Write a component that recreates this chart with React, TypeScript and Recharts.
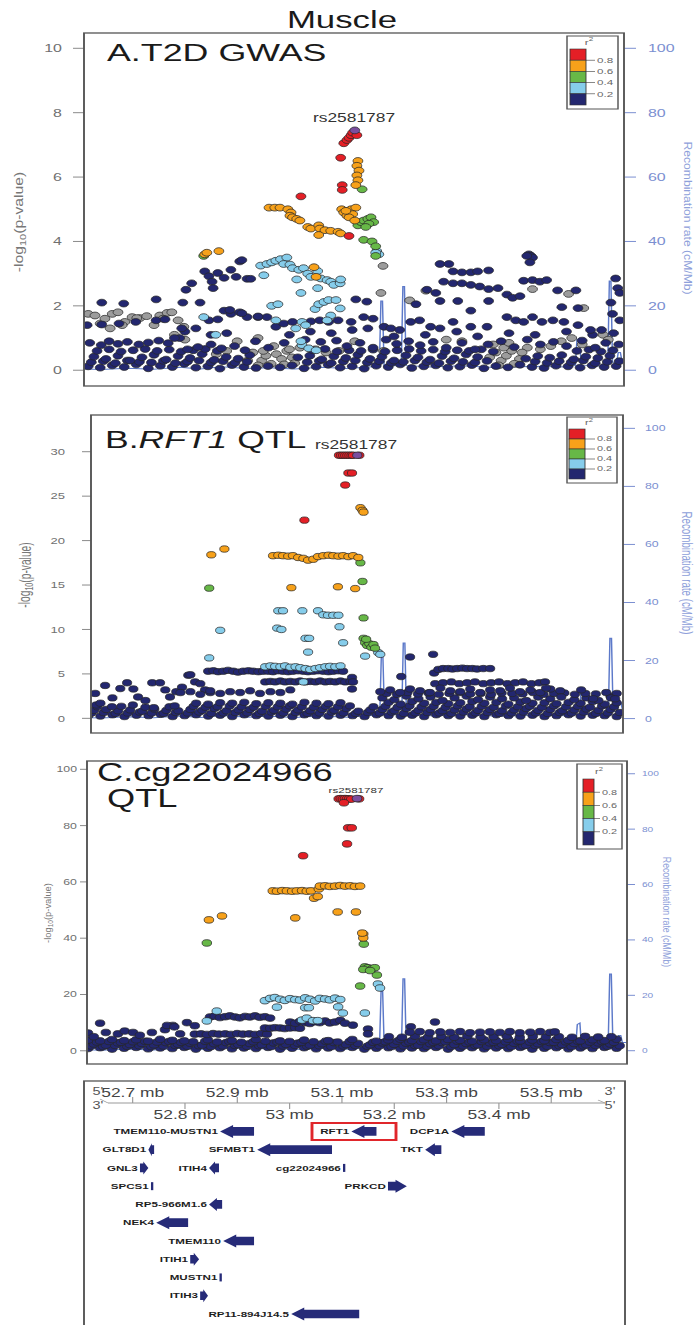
import React from 'react';
import { ComposedChart, Scatter, Line, XAxis, YAxis, BarChart, Bar } from 'recharts';

// the source figure is stretched sideways, so everything is drawn narrow and scaled
const S = 1.45;
const W = 696 / S;
const sx = (v: number) => v / S;

type Pt = [number, number];

const LD_COLORS = ['#E41F26', '#F7A11A', '#67B847', '#86CDEB', '#23276F'];
const LD_BREAKS = ['0.8', '0.6', '0.4', '0.2'];
const GRAY = '#9C9C9C';
const LEAD_COLOR = '#7A4E9E';
const RECOMB_COLOR = '#5C79C9';
const AXIS_BLUE = '#7B8FD1';
const GENE_FILL = '#262B78';

const P_TICKS_A = [0, 2, 4, 6, 8, 10];
const P_TICKS_B = [0, 5, 10, 15, 20, 25, 30];
const P_TICKS_C = [0, 20, 40, 60, 80, 100];
const R_TICKS = [0, 20, 40, 60, 80, 100];
const MB_TICKS = [52.7, 52.8, 52.9, 53, 53.1, 53.2, 53.3, 53.4, 53.5];

// recombination rate (cM/Mb), same map under every panel
const RECOMB: Pt[] = [
  [52.607, 0.4], [52.64, 0.2], [52.69, 0.6], [52.74, 0.3], [52.79, 0.9], [52.83, 0.4], [52.87, 1.1],
  [52.92, 0.5], [52.96, 0.8], [53.01, 0.4], [53.06, 0.9], [53.11, 0.5], [53.15, 1.0], [53.172, 1.2],
  [53.175, 21.5], [53.178, 21.5], [53.181, 1.2], [53.214, 1.5], [53.217, 26], [53.22, 26], [53.223, 1.5],
  [53.27, 1.0], [53.33, 1.4], [53.4, 0.8], [53.47, 1.2], [53.53, 1.0], [53.547, 1.5], [53.55, 9.5],
  [53.555, 10], [53.558, 1.5], [53.6, 1.2], [53.609, 2], [53.612, 27.7], [53.615, 27.7], [53.618, 2.5],
  [53.626, 2.5], [53.629, 5.5], [53.633, 5.5], [53.636, 3], [53.645, 3],
];

// ---------- A. T2D GWAS ----------
const A_LEAD: Pt[] = [[53.125, 7.45]];
const A_RED: Pt[] = [
  [53.104, 7.05], [53.11, 7.15], [53.114, 7.22], [53.118, 7.3], [53.121, 7.38], [53.129, 7.3],
  [53.098, 6.6], [53.101, 5.75], [53.101, 5.6], [53.022, 5.4], [53.114, 4.17],
];
const A_ORANGE: Pt[] = [
  [53.131, 6.5], [53.129, 6.35], [53.133, 6.2], [53.129, 6.05], [53.131, 5.9], [53.127, 5.75],
  [52.961, 5.05], [52.972, 5.05], [52.982, 5.05], [52.997, 5.0], [53.003, 4.9], [53.001, 4.8],
  [53.006, 4.75], [53.014, 4.7], [53.02, 4.65], [53.035, 4.45], [53.041, 4.4], [53.056, 4.5],
  [53.058, 4.4], [53.068, 4.35], [53.079, 4.33], [53.093, 4.3], [53.098, 4.25], [53.056, 4.2],
  [53.1, 5.0], [53.104, 4.9], [53.11, 4.8], [53.118, 5.0], [53.127, 5.05], [53.121, 4.85],
  [53.114, 4.75], [53.125, 4.65], [53.108, 4.95],
  [52.838, 3.6], [52.842, 3.65], [52.865, 3.7], [53.047, 3.2], [53.051, 2.9],
];
const A_GREEN: Pt[] = [
  [53.131, 4.5], [53.137, 4.6], [53.142, 4.65], [53.15, 4.7], [53.156, 4.75], [53.161, 4.6],
  [53.152, 4.55], [53.146, 4.45], [53.142, 4.05], [53.158, 4.0], [53.165, 3.85], [53.165, 3.55],
  [52.836, 3.55], [53.139, 5.62],
];
const A_LBLUE: Pt[] = [
  [52.945, 3.25], [52.957, 3.3], [52.966, 3.35], [52.974, 3.4], [52.983, 3.45], [52.995, 3.5],
  [52.989, 3.3], [53.001, 3.28], [53.006, 3.17], [53.018, 3.12], [53.027, 3.17], [53.035, 3.0],
  [53.041, 2.9], [53.054, 3.08], [53.06, 2.85], [53.072, 2.8], [53.079, 2.75], [53.085, 2.65],
  [53.097, 2.7], [53.098, 2.82], [53.014, 2.82], [52.951, 2.95], [53.054, 2.55], [53.022, 2.4],
  [52.966, 2.0], [52.978, 2.05], [53.049, 1.9], [53.056, 2.05], [53.066, 2.12], [53.075, 2.18],
  [53.089, 2.18], [53.097, 1.92], [53.079, 1.7], [52.974, 1.55], [53.024, 1.5], [53.031, 1.4],
  [52.859, 1.1], [52.836, 1.65], [53.024, 0.78], [53.037, 0.68], [53.051, 0.62], [53.167, 3.7],
  [53.171, 3.6], [53.165, 3.65], [53.022, 0.9], [53.012, 1.3], [53.072, 1.55],
];
const A_GRAY: Pt[] = [
  [52.615, 1.75], [52.628, 1.7], [52.638, 1.45], [52.647, 1.6], [52.661, 1.75], [52.672, 1.8],
  [52.685, 1.5], [52.699, 1.65], [52.714, 1.62], [52.727, 1.68], [52.741, 1.4], [52.752, 1.7],
  [52.766, 1.78], [52.775, 1.8], [52.787, 1.55], [52.798, 1.35], [52.657, 1.3], [52.68, 1.4],
  [52.708, 1.62], [52.758, 1.6], [53.179, 3.24], [53.175, 2.4], [53.23, 2.17], [53.261, 2.47],
  [53.534, 2.37], [53.465, 2.52], [53.563, 1.93],
  [52.947, 0.3], [52.955, 0.45], [52.965, 0.2], [52.975, 0.5], [52.985, 0.35], [52.995, 0.6],
  [53.005, 0.4], [52.93, 0.55], [52.92, 0.3], [53.02, 0.7], [53.05, 0.65], [53.07, 0.55],
  [53.095, 0.6], [53.125, 0.9], [53.383, 0.4], [53.395, 0.55], [53.405, 0.3], [53.415, 0.45],
  [53.425, 0.6], [53.44, 0.35], [53.455, 0.7], [53.48, 0.65], [53.5, 0.75], [53.52, 0.9],
  [53.54, 1.0], [53.56, 0.8], [53.6, 1.1], [53.61, 0.95], [52.86, 0.5], [52.88, 0.6], [52.9, 0.9],
  [52.94, 1.0], [52.78, 1.1], [52.8, 0.95], [53.18, 0.6], [53.3, 0.95], [53.33, 0.9],
  [52.94, 0.15], [52.95, 0.6], [52.97, 0.75], [52.99, 0.18], [53.0, 0.65], [53.01, 0.22],
  [53.4, 0.15], [53.41, 0.7], [53.43, 0.2], [53.445, 0.55], [53.42, 0.85], [53.39, 0.8],
];
const A_NAVY: Pt[] = [
  [52.615, 0.12], [52.638, 0.08], [52.661, 0.15], [52.684, 0.1], [52.707, 0.18], [52.73, 0.06],
  [52.753, 0.14], [52.776, 0.1], [52.799, 0.2], [52.821, 0.08], [52.844, 0.12], [52.867, 0.05],
  [52.89, 0.16], [52.913, 0.1], [52.936, 0.07], [52.959, 0.13], [52.982, 0.09], [53.005, 0.15],
  [53.028, 0.06], [53.051, 0.11], [53.074, 0.17], [53.097, 0.08], [53.12, 0.12], [53.143, 0.05],
  [53.166, 0.14], [53.189, 0.1], [53.212, 0.18], [53.234, 0.07], [53.257, 0.12], [53.28, 0.15],
  [53.303, 0.08], [53.326, 0.11], [53.349, 0.16], [53.372, 0.06], [53.395, 0.13], [53.418, 0.09],
  [53.441, 0.17], [53.464, 0.1], [53.487, 0.07], [53.51, 0.14], [53.533, 0.12], [53.556, 0.08],
  [53.579, 0.15], [53.602, 0.1], [53.625, 0.13],
  [52.621, 0.25], [52.644, 0.28], [52.667, 0.22], [52.69, 0.3], [52.713, 0.26], [52.736, 0.24],
  [52.759, 0.29], [52.782, 0.22], [52.805, 0.27], [52.827, 0.3], [52.85, 0.24], [52.873, 0.28],
  [52.896, 0.23], [52.919, 0.26], [53.034, 0.25], [53.057, 0.29], [53.08, 0.22], [53.103, 0.27],
  [53.126, 0.3], [53.149, 0.24], [53.172, 0.28], [53.195, 0.23], [53.218, 0.26], [53.24, 0.3],
  [53.263, 0.25], [53.286, 0.22], [53.309, 0.28], [53.332, 0.26], [53.355, 0.24], [53.378, 0.29],
  [53.47, 0.27], [53.493, 0.23], [53.516, 0.28], [53.539, 0.25], [53.562, 0.3], [53.585, 0.22],
  [53.608, 0.26], [53.631, 0.28],
  [52.626, 0.42], [52.649, 0.35], [52.672, 0.45], [52.695, 0.3], [52.718, 0.4], [52.741, 0.48],
  [52.764, 0.33], [52.787, 0.44], [52.81, 0.38], [52.833, 0.5], [52.856, 0.32], [52.879, 0.41],
  [52.902, 0.36], [52.924, 0.47], [53.016, 0.4], [53.039, 0.45], [53.062, 0.34], [53.085, 0.43],
  [53.108, 0.38], [53.131, 0.48], [53.154, 0.35], [53.177, 0.42], [53.2, 0.3], [53.223, 0.46],
  [53.246, 0.4], [53.269, 0.33], [53.292, 0.44], [53.315, 0.37], [53.338, 0.49], [53.36, 0.41],
  [53.452, 0.36], [53.475, 0.44], [53.498, 0.39], [53.521, 0.47], [53.544, 0.34], [53.567, 0.42],
  [53.59, 0.38], [53.613, 0.45],
  [52.632, 0.6], [52.655, 0.65], [52.678, 0.58], [52.701, 0.62], [52.724, 0.66], [52.747, 0.6],
  [52.77, 0.64], [52.793, 0.58], [52.816, 0.62], [52.839, 0.66], [52.862, 0.6], [53.045, 0.62],
  [53.068, 0.66], [53.091, 0.58], [53.114, 0.62], [53.137, 0.6], [53.16, 0.64], [53.183, 0.58],
  [53.206, 0.62], [53.229, 0.66], [53.252, 0.6], [53.275, 0.64], [53.298, 0.58], [53.321, 0.62],
  [53.344, 0.6], [53.367, 0.65], [53.39, 0.58], [53.55, 0.6], [53.573, 0.64], [53.596, 0.58],
  [53.619, 0.62],
  [52.618, 0.85], [52.64, 0.78], [52.655, 0.9], [52.672, 0.82], [52.69, 0.88], [52.712, 0.8],
  [52.73, 0.86], [52.75, 0.92], [52.768, 0.84], [52.79, 1.0], [52.805, 0.65], [52.825, 0.72],
  [52.85, 0.8], [52.87, 0.68], [52.895, 0.75], [52.915, 0.62], [52.935, 0.9], [52.96, 0.7],
  [52.99, 0.85], [53.03, 0.95], [53.06, 0.88], [53.09, 0.92], [53.11, 0.75], [53.135, 0.85],
  [53.16, 0.7], [53.185, 0.95], [53.205, 0.82], [53.228, 0.9], [53.25, 0.78], [53.275, 0.88],
  [53.3, 0.7], [53.33, 0.85], [53.355, 0.65], [53.38, 0.8], [53.405, 0.9], [53.43, 0.72],
  [53.455, 0.95], [53.48, 0.8], [53.505, 0.88], [53.53, 0.75], [53.56, 0.92], [53.585, 0.7],
  [53.605, 0.85], [53.63, 0.8],
  [52.78, 1.0], [52.8, 1.2], [52.85, 1.1], [52.88, 1.15], [53.0, 1.1], [53.04, 1.2], [53.08, 1.15],
  [53.12, 1.25], [53.15, 1.3], [53.2, 1.05], [53.26, 1.1], [53.32, 1.2], [53.36, 1.05], [53.42, 1.15],
  [53.47, 1.1], [53.53, 1.2], [53.58, 1.1], [53.62, 1.15],
  [52.613, 1.4], [52.641, 1.42], [52.674, 1.45], [52.706, 1.5], [52.745, 1.55], [52.762, 1.58],
  [52.794, 1.3], [52.821, 1.3], [52.846, 1.55], [52.863, 1.58], [52.875, 1.85], [52.888, 1.75],
  [52.905, 1.8], [52.919, 1.65], [52.94, 1.65], [52.957, 1.65], [52.974, 1.35], [52.989, 1.45],
  [53.006, 1.5], [53.041, 1.52], [53.058, 1.55], [53.075, 1.5], [53.093, 1.55], [53.118, 1.5],
  [53.142, 1.65], [53.16, 1.6], [53.181, 1.35], [53.194, 1.3], [53.211, 1.25], [53.232, 1.5],
  [53.249, 1.55], [53.27, 1.35], [53.288, 1.3], [53.313, 1.5], [53.347, 1.35], [53.378, 1.35],
  [53.416, 1.65], [53.433, 1.55], [53.448, 1.5], [53.465, 1.65], [53.483, 1.5], [53.504, 1.55],
  [53.525, 1.5], [53.552, 1.4], [53.576, 1.25], [53.597, 1.25], [53.618, 1.75], [53.632, 1.55],
  [52.641, 2.1], [52.683, 2.07], [52.745, 2.2], [52.886, 1.87], [52.909, 1.77], [52.94, 1.67],
  [53.127, 2.2], [53.148, 2.13],
  [52.905, 3.38], [52.909, 3.42], [52.838, 3.07], [52.846, 2.92], [52.852, 2.75], [52.854, 2.55],
  [52.863, 3.02], [52.875, 2.87], [52.888, 3.12], [52.898, 2.9], [52.919, 2.84], [52.926, 2.84],
  [52.802, 2.5], [52.813, 2.7], [52.796, 2.1], [52.829, 2.1],
  [53.458, 3.6], [53.462, 3.55], [53.465, 3.5], [53.46, 3.35], [53.454, 3.55],
  [53.288, 3.3], [53.305, 3.3], [53.313, 3.07], [53.33, 3.04], [53.347, 3.04], [53.36, 3.07],
  [53.381, 3.1], [53.295, 2.75], [53.313, 2.7], [53.33, 2.7], [53.347, 2.65], [53.364, 2.6],
  [53.381, 2.52], [53.399, 2.55], [53.416, 2.35], [53.427, 2.25], [53.441, 2.3], [53.448, 2.78],
  [53.465, 2.8], [53.479, 2.75], [53.492, 2.8], [53.28, 2.4], [53.263, 2.5], [53.242, 2.05],
  [53.288, 2.15], [53.322, 2.15], [53.347, 1.85], [53.381, 2.15], [53.513, 2.48], [53.548, 2.48],
  [53.521, 1.96], [53.552, 1.93], [53.624, 2.85], [53.628, 2.55], [53.632, 2.4], [53.615, 2.1],
];

// ---------- B. RFT1 QTL ----------
const B_LEAD: Pt[] = [[53.129, 29.6]];
const B_RED: Pt[] = [
  [53.094, 29.6], [53.098, 29.6], [53.102, 29.6], [53.106, 29.6], [53.11, 29.6], [53.114, 29.6],
  [53.118, 29.6], [53.121, 29.6], [53.133, 29.6], [53.112, 27.6], [53.119, 27.6], [53.106, 26.25],
  [53.028, 22.3],
];
const B_ORANGE: Pt[] = [
  [52.85, 18.4], [52.875, 19.05],
  [52.968, 18.3], [52.978, 18.35], [52.987, 18.3], [52.997, 18.25], [53.006, 18.3], [53.016, 18.1],
  [53.026, 18.0], [53.035, 17.8], [53.045, 17.9], [53.054, 18.2], [53.064, 18.3], [53.074, 18.35],
  [53.083, 18.3], [53.093, 18.25], [53.102, 18.3], [53.112, 18.2], [53.121, 18.3], [53.131, 18.1],
  [53.003, 14.7], [53.092, 14.8], [53.135, 23.7], [53.139, 23.4], [53.141, 23.2], [53.125, 14.6],
];
const B_GREEN: Pt[] = [
  [52.846, 14.65], [53.135, 17.5], [53.139, 15.4], [53.141, 11.3], [53.141, 9.0], [53.144, 8.5],
  [53.148, 8.2], [53.152, 8.4], [53.156, 8.0], [53.16, 8.3], [53.163, 7.9], [53.146, 8.9],
];
const B_LBLUE: Pt[] = [
  [52.846, 6.8], [52.867, 9.9], [52.978, 12.1], [52.987, 12.1], [53.024, 12.1], [53.054, 12.1],
  [53.064, 11.65], [53.073, 11.6], [53.083, 11.6], [53.093, 11.6], [52.976, 10.15], [52.984, 10.0],
  [53.03, 9.0], [53.037, 9.0], [53.035, 7.45], [53.095, 10.3], [53.102, 8.5], [53.144, 7.0],
  [53.169, 7.4], [53.173, 7.2], [53.026, 4.1],
  [52.953, 5.8], [52.963, 5.9], [52.972, 5.85], [52.982, 5.8], [52.991, 5.9], [53.001, 5.75],
  [53.011, 5.8], [53.02, 5.7], [53.03, 5.6], [53.039, 5.5], [53.049, 5.6], [53.058, 5.7],
  [53.068, 5.8], [53.077, 5.85], [53.087, 5.8], [53.097, 5.9],
];
const B_NAVY: Pt[] = [
  [52.615, 0.3], [52.638, 0.25], [52.661, 0.4], [52.684, 0.2], [52.707, 0.35], [52.73, 0.3],
  [52.753, 0.45], [52.776, 0.2], [52.799, 0.3], [52.821, 0.4], [52.844, 0.25], [52.867, 0.35],
  [52.89, 0.2], [52.913, 0.4], [52.936, 0.3], [52.959, 0.25], [52.982, 0.35], [53.005, 0.2],
  [53.028, 0.4], [53.051, 0.3], [53.074, 0.25], [53.097, 0.35], [53.12, 0.3], [53.143, 0.2],
  [53.166, 0.4], [53.189, 0.3], [53.212, 0.25], [53.234, 0.35], [53.257, 0.2], [53.28, 0.4],
  [53.303, 0.3], [53.326, 0.25], [53.349, 0.35], [53.372, 0.2], [53.395, 0.4], [53.418, 0.3],
  [53.441, 0.25], [53.464, 0.35], [53.487, 0.2], [53.51, 0.3], [53.533, 0.4], [53.556, 0.25],
  [53.579, 0.35], [53.602, 0.3], [53.625, 0.2],
  [52.621, 0.6], [52.644, 0.65], [52.667, 0.55], [52.69, 0.6], [52.713, 0.7], [52.736, 0.6],
  [52.759, 0.55], [52.782, 0.65], [52.805, 0.6], [52.827, 0.7], [52.85, 0.55], [52.873, 0.6],
  [52.896, 0.65], [52.919, 0.6], [52.942, 0.55], [52.965, 0.7], [52.988, 0.6], [53.011, 0.65],
  [53.034, 0.55], [53.057, 0.6], [53.08, 0.7], [53.103, 0.6], [53.126, 0.55], [53.149, 0.65],
  [53.172, 0.6], [53.195, 0.7], [53.218, 0.55], [53.24, 0.6], [53.263, 0.65], [53.286, 0.6],
  [53.309, 0.55], [53.332, 0.7], [53.355, 0.6], [53.378, 0.65], [53.401, 0.55], [53.424, 0.6],
  [53.447, 0.7], [53.47, 0.6], [53.493, 0.55], [53.516, 0.65], [53.539, 0.6], [53.562, 0.7],
  [53.585, 0.55], [53.608, 0.6], [53.631, 0.65],
  [52.626, 0.9], [52.649, 1.0], [52.672, 0.85], [52.695, 0.95], [52.718, 0.8], [52.741, 1.05],
  [52.764, 0.9], [52.787, 0.85], [52.81, 1.0], [52.833, 0.9], [52.856, 1.1], [52.879, 0.85],
  [52.902, 0.95], [52.924, 1.0], [52.947, 0.8], [52.97, 0.9], [52.993, 1.05], [53.016, 0.95],
  [53.039, 0.85], [53.062, 1.0], [53.085, 0.9], [53.108, 1.1], [53.131, 0.8], [53.154, 0.95],
  [53.177, 1.0], [53.2, 0.85], [53.223, 1.1], [53.246, 0.9], [53.269, 1.0], [53.292, 0.85],
  [53.315, 0.95], [53.338, 1.05], [53.36, 0.9], [53.383, 1.0], [53.406, 0.85], [53.429, 0.95],
  [53.452, 1.1], [53.475, 0.9], [53.498, 1.0], [53.521, 0.85], [53.544, 0.95], [53.567, 1.05],
  [53.59, 0.9], [53.613, 1.0],
  [52.632, 1.3], [52.678, 1.35], [52.724, 1.25], [52.77, 1.3], [52.816, 1.35], [52.839, 1.25],
  [52.862, 1.3], [52.885, 1.4], [52.908, 1.3], [52.931, 1.25], [52.954, 1.35], [52.977, 1.3],
  [53.0, 1.4], [53.023, 1.3], [53.046, 1.25], [53.069, 1.35], [53.092, 1.3], [53.115, 1.4],
  [53.16, 1.3], [53.183, 1.35], [53.206, 1.25], [53.229, 1.4], [53.252, 1.3], [53.275, 1.35],
  [53.298, 1.25], [53.321, 1.4], [53.344, 1.3], [53.367, 1.35], [53.39, 1.25], [53.413, 1.4],
  [53.436, 1.3], [53.459, 1.35], [53.482, 1.25], [53.505, 1.4], [53.528, 1.3], [53.551, 1.35],
  [53.574, 1.25], [53.597, 1.4], [53.62, 1.3],
  [52.821, 1.7], [52.844, 1.6], [52.867, 1.75], [52.89, 1.7], [52.913, 1.8], [52.936, 1.65],
  [52.959, 1.75], [52.982, 1.7], [53.005, 1.6], [53.028, 1.8], [53.051, 1.7], [53.074, 1.65],
  [53.097, 1.75], [53.189, 1.8], [53.212, 1.6], [53.234, 1.9], [53.257, 1.7], [53.28, 1.8],
  [53.303, 1.65], [53.326, 1.75], [53.349, 1.9], [53.372, 1.7], [53.395, 1.8], [53.418, 1.6],
  [53.441, 1.85], [53.464, 1.7], [53.487, 1.75], [53.51, 1.65], [53.533, 1.8], [53.556, 1.7],
  [53.579, 1.9], [53.602, 1.6], [53.625, 1.75],
  [53.177, 2.3], [53.2, 2.1], [53.223, 2.5], [53.246, 2.2], [53.269, 2.4], [53.292, 2.0],
  [53.315, 2.3], [53.338, 2.5], [53.36, 2.1], [53.383, 2.4], [53.406, 2.2], [53.429, 2.3],
  [53.452, 2.0], [53.475, 2.4], [53.498, 2.2], [53.544, 2.1], [53.567, 2.3], [53.59, 2.0],
  [53.613, 2.5],
  [53.185, 2.8], [53.205, 2.7], [53.225, 2.9], [53.245, 2.75], [53.265, 2.85], [53.285, 2.7],
  [53.305, 2.8], [53.325, 2.9], [53.345, 2.75], [53.365, 2.8], [53.385, 2.7], [53.405, 2.85],
  [53.425, 2.8], [53.445, 2.75], [53.465, 2.9], [53.485, 2.7], [53.505, 2.8], [53.525, 2.85],
  [53.545, 2.7], [53.565, 2.8], [53.585, 2.75], [53.605, 2.9], [53.625, 2.8],
  [52.63, 1.5], [52.66, 1.3], [52.7, 1.5], [52.74, 1.2], [52.78, 1.4],
  [52.628, 2.8], [52.638, 1.7], [52.647, 3.7], [52.661, 2.3], [52.676, 3.35], [52.689, 4.0],
  [52.701, 3.3], [52.71, 2.4], [52.724, 2.0], [52.737, 4.0], [52.752, 4.0], [52.762, 3.2],
  [52.771, 2.4], [52.783, 3.0], [52.794, 3.5], [52.806, 4.85], [52.819, 4.1], [52.829, 3.9],
  [52.838, 3.2], [52.848, 2.9],
  [52.844, 5.3], [52.854, 5.35], [52.863, 5.25], [52.873, 5.3], [52.882, 5.4], [52.892, 5.3],
  [52.901, 5.2], [52.911, 5.3], [52.921, 5.35], [52.93, 5.3], [52.94, 5.25], [52.949, 5.3],
  [52.959, 5.3], [52.968, 5.25], [52.978, 5.35], [52.987, 5.3], [52.997, 5.25], [53.006, 5.3],
  [53.016, 5.35], [53.026, 5.3], [53.035, 5.25], [53.045, 5.3], [53.054, 5.35], [53.064, 5.3],
  [53.074, 5.25], [53.083, 5.3], [53.093, 5.35], [53.102, 5.3], [52.81, 4.9],
  [52.953, 4.1], [52.963, 4.15], [52.972, 4.1], [52.982, 4.2], [52.991, 4.1], [53.001, 4.15],
  [53.011, 4.1], [53.02, 4.2], [53.03, 4.1], [53.039, 4.15], [53.049, 4.1], [53.058, 4.2],
  [53.068, 4.1], [53.077, 4.15], [53.087, 4.1], [53.097, 4.2], [53.106, 4.1], [53.116, 4.15],
  [52.791, 2.9], [52.81, 3.0], [52.829, 2.7], [52.848, 3.1], [52.867, 2.8], [52.886, 3.0],
  [52.905, 2.9], [52.924, 3.1], [52.943, 2.8], [52.963, 3.0], [52.982, 2.9], [53.001, 3.2],
  [53.119, 4.6], [53.121, 4.1], [53.119, 3.3], [53.23, 6.9], [53.274, 7.2], [53.276, 5.1],
  [53.213, 4.7], [53.284, 5.5],
  [53.293, 5.6], [53.303, 5.6], [53.311, 5.55], [53.32, 5.6], [53.33, 5.65], [53.339, 5.6],
  [53.349, 5.6], [53.358, 5.55], [53.37, 5.6], [53.383, 5.6],
  [53.278, 3.9], [53.293, 4.0], [53.309, 4.1], [53.324, 3.9], [53.339, 4.0], [53.354, 4.1],
  [53.37, 3.9], [53.385, 4.0], [53.4, 4.1], [53.416, 3.9], [53.431, 4.0], [53.446, 4.1],
  [53.462, 3.9], [53.477, 4.0], [53.488, 4.1],
  [53.173, 3.0], [53.192, 3.2], [53.211, 2.9], [53.23, 3.3], [53.249, 3.1], [53.268, 2.9],
  [53.288, 3.4], [53.307, 3.1], [53.326, 3.0], [53.345, 3.3], [53.364, 2.9], [53.383, 3.2],
  [53.402, 3.1], [53.421, 3.4], [53.44, 3.0], [53.46, 3.2], [53.479, 2.9], [53.498, 3.3],
  [53.517, 3.1], [53.49, 3.4], [53.519, 2.4], [53.557, 3.2], [53.58, 2.2], [53.614, 2.3],
  [53.622, 2.2],
];

// ---------- C. cg22024966 QTL ----------
const C_LEAD: Pt[] = [[53.129, 89.6]];
const C_RED: Pt[] = [
  [53.094, 89.5], [53.098, 89.6], [53.102, 89.5], [53.106, 89.6], [53.11, 89.5], [53.114, 89.5],
  [53.118, 89.4], [53.133, 89.5], [53.104, 88.1], [53.112, 79.2], [53.119, 79.2], [53.11, 73.5],
  [53.026, 69.3],
];
const C_ORANGE: Pt[] = [
  [52.846, 46.5], [52.871, 47.9], [53.011, 47.2], [53.092, 49.3],
  [52.968, 56.8], [52.976, 56.7], [52.986, 56.9], [52.995, 56.8], [53.005, 56.7], [53.014, 56.8],
  [53.024, 56.9], [53.033, 56.7], [53.041, 56.8], [53.047, 54.2], [53.054, 54.8], [53.056, 57.5],
  [53.058, 58.5], [53.068, 58.6], [53.077, 58.4], [53.087, 58.5], [53.097, 58.7], [53.106, 58.5],
  [53.116, 58.6], [53.125, 58.4], [53.135, 58.5],
  [53.127, 49.3], [53.141, 41.5], [53.141, 40.1], [53.139, 41.8],
];
const C_GREEN: Pt[] = [
  [52.842, 38.3], [53.142, 37.9], [53.144, 29.8], [53.15, 29.5], [53.158, 29.2], [53.163, 29.5],
  [53.167, 26.9], [53.141, 28.9], [53.135, 23.0], [53.154, 28.5],
];
const C_LBLUE: Pt[] = [
  [52.861, 14.1], [53.144, 13.4], [53.169, 23.7], [53.173, 22.3], [52.842, 10.6],
  [52.953, 17.8], [52.963, 18.6], [52.972, 18.9], [52.982, 18.3], [52.991, 17.9], [53.001, 18.5],
  [53.011, 18.2], [53.02, 18.0], [53.03, 18.8], [53.039, 18.3], [53.049, 17.7], [53.058, 18.6],
  [53.068, 18.4], [53.077, 18.1], [53.087, 18.7], [53.097, 18.2],
  [52.976, 15.5], [53.03, 15.3], [53.037, 15.3], [53.093, 15.6], [53.102, 13.4], [53.024, 10.9],
  [53.033, 11.6], [53.045, 10.7], [53.054, 10.7],
];
const C_NAVY: Pt[] = [
  [52.615, 0.8], [52.638, 1.1], [52.661, 0.6], [52.684, 0.9], [52.707, 1.2], [52.73, 0.7],
  [52.753, 1.0], [52.776, 0.8], [52.799, 1.2], [52.821, 0.6], [52.844, 0.9], [52.867, 1.1],
  [52.89, 0.7], [52.913, 1.0], [52.936, 0.8], [52.959, 1.2], [52.982, 0.6], [53.005, 0.9],
  [53.028, 1.1], [53.051, 0.7], [53.074, 1.0], [53.097, 0.8], [53.12, 1.2], [53.143, 0.6],
  [53.166, 0.9], [53.189, 1.1], [53.212, 0.7], [53.234, 1.0], [53.257, 0.8], [53.28, 1.2],
  [53.303, 0.6], [53.326, 0.9], [53.349, 1.1], [53.372, 0.7], [53.395, 1.0], [53.418, 0.8],
  [53.441, 1.2], [53.464, 0.6], [53.487, 0.9], [53.51, 1.1], [53.533, 0.7], [53.556, 1.0],
  [53.579, 0.8], [53.602, 1.2], [53.625, 0.9],
  [52.621, 1.7], [52.644, 1.5], [52.667, 1.9], [52.69, 1.6], [52.713, 1.8], [52.736, 1.5],
  [52.759, 1.7], [52.782, 1.9], [52.805, 1.6], [52.827, 1.8], [52.85, 1.5], [52.873, 1.7],
  [52.896, 1.9], [52.919, 1.6], [52.942, 1.8], [52.965, 1.5], [52.988, 1.7], [53.011, 1.9],
  [53.034, 1.6], [53.057, 1.8], [53.08, 1.5], [53.103, 1.7], [53.126, 1.9], [53.149, 1.6],
  [53.172, 1.8], [53.195, 1.5], [53.218, 1.7], [53.24, 1.9], [53.263, 1.6], [53.286, 1.8],
  [53.309, 1.5], [53.332, 1.7], [53.355, 1.9], [53.378, 1.6], [53.401, 1.8], [53.424, 1.5],
  [53.447, 1.7], [53.47, 1.9], [53.493, 1.6], [53.516, 1.8], [53.539, 1.5], [53.562, 1.7],
  [53.585, 1.9], [53.608, 1.6], [53.631, 1.8],
  [52.626, 2.4], [52.649, 2.0], [52.672, 2.8], [52.695, 2.2], [52.718, 2.6], [52.741, 2.1],
  [52.764, 2.9], [52.787, 2.3], [52.81, 2.7], [52.833, 2.0], [52.856, 2.5], [52.879, 2.9],
  [52.902, 2.2], [52.924, 2.6], [52.947, 2.1], [52.97, 2.8], [52.993, 2.3], [53.016, 2.7],
  [53.039, 2.0], [53.062, 2.5], [53.085, 2.9], [53.108, 2.2], [53.131, 2.6], [53.154, 2.1],
  [53.177, 2.8], [53.2, 2.3], [53.223, 2.7], [53.246, 2.0], [53.269, 2.5], [53.292, 2.9],
  [53.315, 2.2], [53.338, 2.6], [53.36, 2.1], [53.383, 2.8], [53.406, 2.3], [53.429, 2.7],
  [53.452, 2.0], [53.475, 2.5], [53.498, 2.9], [53.521, 2.2], [53.544, 2.6], [53.567, 2.1],
  [53.59, 2.8], [53.613, 2.4],
  [52.632, 3.1], [52.655, 3.3], [52.678, 3.0], [52.701, 3.2], [52.724, 3.4], [52.747, 3.1],
  [52.77, 3.3], [52.793, 3.0], [52.816, 3.2], [52.839, 3.4], [52.862, 3.1], [52.885, 3.3],
  [52.908, 3.0], [52.931, 3.2], [52.954, 3.4], [52.977, 3.1], [53.0, 3.3], [53.023, 3.0],
  [53.046, 3.2], [53.069, 3.4], [53.092, 3.1], [53.115, 3.3], [53.16, 3.0], [53.183, 3.2],
  [53.206, 3.4], [53.229, 3.1], [53.252, 3.3], [53.275, 3.0], [53.298, 3.2], [53.321, 3.4],
  [53.344, 3.1], [53.367, 3.3], [53.39, 3.0], [53.413, 3.2], [53.436, 3.4], [53.459, 3.1],
  [53.482, 3.3], [53.505, 3.0], [53.528, 3.2], [53.551, 3.4], [53.574, 3.1], [53.597, 3.3],
  [53.62, 3.0],
  [52.615, 3.8], [52.638, 3.5], [52.661, 4.0], [52.684, 3.6], [52.707, 3.9], [52.73, 3.4],
  [52.753, 4.1], [52.776, 3.7], [52.799, 3.5], [52.844, 3.9], [52.89, 3.6], [52.936, 4.0],
  [52.982, 3.5], [53.028, 3.8], [53.074, 3.6], [53.12, 4.0], [53.166, 3.4], [53.189, 3.8],
  [53.212, 4.1], [53.234, 3.6], [53.257, 3.9], [53.28, 3.5], [53.303, 4.0], [53.326, 3.7],
  [53.349, 3.4], [53.372, 3.9], [53.395, 3.6], [53.418, 4.1], [53.441, 3.5], [53.464, 3.8],
  [53.487, 3.6], [53.51, 4.0], [53.533, 3.7], [53.556, 3.5], [53.579, 3.9], [53.602, 3.6],
  [53.625, 4.1],
  [53.19, 5.0], [53.215, 4.8], [53.24, 5.2], [53.265, 4.9], [53.29, 5.1], [53.315, 4.8],
  [53.34, 5.2], [53.365, 4.9], [53.39, 5.0], [53.415, 5.2], [53.44, 4.8], [53.465, 5.1],
  [53.49, 4.9], [53.515, 5.0], [53.54, 4.8], [53.565, 5.1], [53.59, 4.9], [53.615, 5.0],
  [52.615, 6.3], [52.626, 5.0], [52.649, 6.5], [52.672, 6.0], [52.685, 7.0], [52.701, 6.5],
  [52.714, 5.5], [52.737, 6.5], [52.762, 7.5], [52.777, 9.0], [52.791, 6.0], [52.638, 9.8],
  [52.766, 9.0], [52.804, 10.0], [52.819, 8.9], [52.78, 8.5],
  [52.819, 5.9], [52.831, 6.0], [52.842, 5.8], [52.854, 6.1], [52.865, 5.9], [52.877, 6.0],
  [52.888, 5.8], [52.9, 6.1], [52.911, 5.9], [52.923, 6.0], [52.934, 5.8], [52.946, 6.1],
  [52.957, 5.9],
  [52.953, 8.1], [52.963, 8.0], [52.972, 8.2], [52.982, 8.1], [52.991, 7.9], [53.001, 8.1],
  [53.011, 8.2], [53.02, 8.0],
  [53.001, 10.2], [53.011, 9.8], [53.02, 10.5], [53.03, 10.0], [53.039, 9.7], [53.049, 10.3],
  [53.058, 10.0], [53.068, 10.6], [53.077, 9.9], [53.087, 10.2], [53.097, 10.8], [53.106, 9.8],
  [52.848, 12.0], [52.857, 12.3], [52.867, 11.8], [52.877, 12.1], [52.886, 12.4], [52.896, 12.0],
  [52.905, 11.7], [52.915, 12.2], [52.924, 12.0], [52.934, 12.4], [52.943, 11.9], [52.953, 12.1],
  [52.963, 11.6],
  [53.121, 9.1], [53.15, 7.7], [53.15, 6.0], [53.232, 8.5], [53.278, 10.2],
  [53.23, 6.6], [53.249, 6.8], [53.268, 6.4], [53.288, 6.7], [53.307, 6.5], [53.326, 6.8],
  [53.345, 6.4], [53.364, 6.6], [53.383, 6.7], [53.402, 6.5], [53.421, 6.8], [53.44, 6.4],
  [53.46, 6.6], [53.479, 6.8], [53.498, 6.5], [53.507, 6.7],
];

// ---------- genes ----------
const GENE_NAMES = [
  'TMEM110-MUSTN1', 'RFT1', 'DCP1A', 'GLT8D1', 'SFMBT1', 'TKT', 'GNL3', 'ITIH4', 'cg22024966',
  'SPCS1', 'PRKCD', 'RP5-966M1.6', 'NEK4', 'TMEM110', 'ITIH1', 'MUSTN1', 'ITIH3', 'RP11-894J14.5',
];
const GENE_START = [52.867, 53.118, 53.309, 52.73, 52.938, 53.259, 52.714, 52.846, 53.102, 52.735, 53.188, 52.846, 52.745, 52.873, 52.81, 52.866, 52.829, 53.003];
const GENE_END = [52.932, 53.166, 53.373, 52.741, 53.081, 53.29, 52.73, 52.865, 53.105, 52.738, 53.224, 52.871, 52.806, 52.932, 52.827, 52.869, 52.844, 53.133];
const GENE_STRAND = ['-', '-', '-', '-', '-', '-', '+', '-', '.', '.', '+', '-', '-', '-', '+', '.', '+', '-'];
const GENE_ROW = [0, 0, 0, 1, 1, 1, 2, 2, 2, 3, 3, 4, 5, 6, 7, 8, 9, 10];

const toP = (pts: Pt[]) => pts.map(([pos, p]) => ({ pos, p }));
const recombData = RECOMB.map(([pos, rate]) => ({ pos, rate }));

const geneRows = Array.from({ length: 11 }, (_, r) => {
  const row: Record<string, any> = { row: `r${r}` };
  let slot = 0;
  GENE_NAMES.forEach((name, i) => {
    if (GENE_ROW[i] !== r) return;
    row[`g${slot}`] = [GENE_START[i], GENE_END[i]];
    row[`n${slot}`] = name;
    row[`s${slot}`] = GENE_STRAND[i];
    slot += 1;
  });
  return row;
});

interface PanelCfg {
  top: number;
  height: number;
  box: [number, number, number, number];
  xDomain: [number, number];
  pDomain: [number, number];
  pTicks: number[];
  rDomain: [number, number];
  pFont: number;
  rFont: number;
  pTick: [number, number];
  rTick: [number, number];
  r: number;
  groups: { data: Pt[]; fill: string }[];
}

function Panel({ cfg }: { cfg: PanelCfg }) {
  const [bl, bt, br, bb] = cfg.box;
  const yw = 30;
  return (
    <div style={{ position: 'absolute', left: 0, top: cfg.top }}>
      <ComposedChart
        width={W}
        height={cfg.height}
        margin={{ top: bt - cfg.top, bottom: cfg.top + cfg.height - bb, left: sx(bl) - yw, right: sx(696 - br) - yw }}
      >
        <XAxis type="number" dataKey="pos" domain={cfg.xDomain} allowDataOverflow hide />
        <YAxis
          yAxisId="p"
          dataKey="p"
          type="number"
          domain={cfg.pDomain}
          ticks={cfg.pTicks}
          interval={0}
          allowDataOverflow
          width={yw}
          axisLine={false}
          tickLine={{ stroke: '#8a8a8a' }}
          tickSize={sx(cfg.pTick[0])}
          tickMargin={sx(cfg.pTick[1])}
          tick={{ fill: '#707070', fontSize: cfg.pFont }}
        />
        <YAxis
          yAxisId="r"
          orientation="right"
          type="number"
          domain={cfg.rDomain}
          ticks={R_TICKS}
          interval={0}
          allowDataOverflow
          width={yw}
          axisLine={false}
          tickLine={{ stroke: AXIS_BLUE }}
          tickSize={sx(cfg.rTick[0])}
          tickMargin={sx(cfg.rTick[1])}
          tick={{ fill: AXIS_BLUE, fontSize: cfg.rFont }}
        />
        <Line
          yAxisId="r"
          data={recombData}
          dataKey="rate"
          type="linear"
          dot={false}
          stroke={RECOMB_COLOR}
          strokeWidth={1}
          isAnimationActive={false}
        />
        {cfg.groups.map((g, i) => (
          <Scatter
            key={i}
            yAxisId="p"
            data={toP(g.data)}
            fill={g.fill}
            isAnimationActive={false}
            shape={(props: any) => (
              <circle cx={props.cx} cy={props.cy} r={cfg.r} fill={g.fill} stroke="#262626" strokeWidth={0.6} />
            )}
          />
        ))}
      </ComposedChart>
    </div>
  );
}

const groupsFor = (gray: Pt[], navy: Pt[], lblue: Pt[], green: Pt[], orange: Pt[], red: Pt[], lead: Pt[]) => [
  { data: gray, fill: GRAY },
  { data: navy, fill: LD_COLORS[4] },
  { data: lblue, fill: LD_COLORS[3] },
  { data: green, fill: LD_COLORS[2] },
  { data: orange, fill: LD_COLORS[1] },
  { data: red, fill: LD_COLORS[0] },
  { data: lead, fill: LEAD_COLOR },
];

const PANEL_A: PanelCfg = {
  top: 0, height: 400, box: [84, 33, 624, 386], xDomain: [52.607, 53.64],
  pDomain: [-0.49, 10.475], pTicks: P_TICKS_A, rDomain: [-4.9, 104.75],
  pFont: 11, rFont: 11, pTick: [11, 11], rTick: [12, 12], r: 3.4,
  groups: groupsFor(A_GRAY, A_NAVY, A_LBLUE, A_GREEN, A_ORANGE, A_RED, A_LEAD),
};
const PANEL_B: PanelCfg = {
  top: 400, height: 340, box: [91, 415, 623, 733], xDomain: [52.62, 53.637],
  pDomain: [-1.65, 34.13], pTicks: P_TICKS_B, rDomain: [-4.97, 104.6],
  pFont: 9, rFont: 8.5, pTick: [9, 17], rTick: [12, 10], r: 3.2,
  groups: groupsFor([], B_NAVY, B_LBLUE, B_GREEN, B_ORANGE, B_RED, B_LEAD),
};
const PANEL_C: PanelCfg = {
  top: 745, height: 325, box: [87, 761, 627, 1064], xDomain: [52.613, 53.645],
  pDomain: [-4.7, 102.95], pTicks: P_TICKS_C, rDomain: [-4.8, 104.6],
  pFont: 8.5, rFont: 7, pTick: [7, 3], rTick: [8, 7], r: 3.3,
  groups: groupsFor([], C_NAVY, C_LBLUE, C_GREEN, C_ORANGE, C_RED, C_LEAD),
};

// genomic axis of the gene track: odd tenths above the line, even ones below
const AXIS_Y = 22;
const GeneAxisTick = (props: any) => {
  const { x, payload } = props;
  const v = payload.value as number;
  const upper = Math.round(v * 10) % 2 === 1;
  return (
    <g>
      <line x1={x} x2={x} y1={upper ? AXIS_Y - 6 : AXIS_Y} y2={upper ? AXIS_Y : AXIS_Y + 6} stroke="#999" strokeWidth={0.8} />
      <text x={x} y={upper ? AXIS_Y - 6 : AXIS_Y + 16} textAnchor="middle" fontSize={12} fill="#444">
        {`${v} mb`}
      </text>
    </g>
  );
};

const geneShape = (slot: number) => (props: any) => {
  const { x, y, width, height, payload } = props;
  const name = payload ? payload[`n${slot}`] : undefined;
  if (!name || !Number.isFinite(x) || !Number.isFinite(width)) return <g />;
  const strand = payload[`s${slot}`];
  const cy = y + height / 2;
  const w = Math.max(Math.abs(width), 1.6);
  let mark;
  if (strand === '.' || w < 2.5) {
    mark = <rect x={x} y={cy - 4} width={w} height={8} fill={GENE_FILL} />;
  } else {
    const h = Math.min(9, w * 0.6);
    const pts =
      strand === '-'
        ? [[x, cy], [x + h, cy - 6.5], [x + h, cy - 4.3], [x + w, cy - 4.3], [x + w, cy + 4.3], [x + h, cy + 4.3], [x + h, cy + 6.5]]
        : [[x + w, cy], [x + w - h, cy - 6.5], [x + w - h, cy - 4.3], [x, cy - 4.3], [x, cy + 4.3], [x + w - h, cy + 4.3], [x + w - h, cy + 6.5]];
    mark = <polygon points={pts.map((p) => p.join(',')).join(' ')} fill={GENE_FILL} />;
  }
  return (
    <g>
      {mark}
      <text x={x - 1.5} y={cy} dy="0.35em" textAnchor="end" fontSize={8} fontWeight="bold" fill="#1e1e1e">
        {name}
      </text>
    </g>
  );
};

function GeneTrack() {
  const top = 1081;
  const h = 244;
  const axisH = 20;
  return (
    <div style={{ position: 'absolute', left: 0, top }}>
      <BarChart
        layout="vertical"
        width={W}
        height={h}
        data={geneRows}
        margin={{ top: 1122.4 - top - axisH, bottom: top + h - 1323.2, left: sx(84), right: sx(696 - 625) }}
      >
        <XAxis
          type="number"
          orientation="top"
          domain={[52.607, 53.641]}
          allowDataOverflow
          ticks={MB_TICKS}
          interval={0}
          height={axisH}
          axisLine={false}
          tickLine={false}
          tick={<GeneAxisTick />}
        />
        {[0, 1, 2].map((i) => (
          <YAxis key={i} yAxisId={i} type="category" dataKey="row" hide />
        ))}
        {[0, 1, 2].map((i) => (
          <Bar key={i} yAxisId={i} dataKey={`g${i}`} barSize={14} shape={geneShape(i)} isAnimationActive={false} />
        ))}
      </BarChart>
    </div>
  );
}

function RotLabel({ cx, cy, size, k, angle, color, children }: any) {
  return (
    <text
      transform={`translate(${sx(cx)},${cy}) rotate(${angle}) scale(${k},1)`}
      textAnchor="middle"
      dominantBaseline="central"
      fontSize={size}
      fill={color}
    >
      {children}
    </text>
  );
}

const LogLabel = ({ size }: { size: number }) => (
  <>
    -log
    <tspan fontSize={size * 0.7} dy={size * 0.3}>10</tspan>
    <tspan dy={-size * 0.3}>(p-value)</tspan>
  </>
);

function LdLegend({ box, rect, labelX, r2, font }: any) {
  const [l, t, r, b] = box;
  const [rl, rt, rr, rb] = rect;
  const cell = (rb - rt) / 5;
  return (
    <g>
      <rect x={sx(l)} y={t} width={sx(r - l)} height={b - t} fill="#fff" stroke="#555" strokeWidth={1} />
      <text x={sx(r2[0])} y={r2[1]} textAnchor="middle" dominantBaseline="central" fontSize={font} fill="#666">
        r<tspan fontSize={font * 0.7} dy={-3}>2</tspan>
      </text>
      {LD_COLORS.map((c, i) => (
        <rect key={c} x={sx(rl)} y={rt + i * cell} width={sx(rr - rl)} height={cell} fill={c} stroke="#333" strokeWidth={0.6} />
      ))}
      {LD_BREAKS.map((lab, i) => (
        <g key={lab}>
          <line x1={sx(rr)} x2={sx(labelX - 2)} y1={rt + (i + 1) * cell} y2={rt + (i + 1) * cell} stroke="#555" strokeWidth={0.7} />
          <text x={sx(labelX)} y={rt + (i + 1) * cell} dominantBaseline="central" fontSize={font} fill="#666">
            {lab}
          </text>
        </g>
      ))}
    </g>
  );
}

function Overlay() {
  const frame = (l: number, t: number, r: number, b: number) => (
    <rect x={sx(l)} y={t} width={sx(r - l)} height={b - t} fill="none" stroke="#555" strokeWidth={1.3} />
  );
  return (
    <svg width={W} height={1325} style={{ position: 'absolute', left: 0, top: 0, pointerEvents: 'none' }}>
      {frame(84, 33, 624, 386)}
      {frame(91, 415, 623, 733)}
      {frame(87, 761, 627, 1064)}
      {frame(84, 1081, 625, 1335)}

      <text x={sx(342)} y={28} textAnchor="middle" fontSize={24} fill="#1a1a1a">Muscle</text>

      <text x={sx(107)} y={61} fontSize={24.7} fill="#1a1a1a">A.T2D GWAS</text>
      <text x={sx(354)} y={122} textAnchor="middle" fontSize={12} fill="#333">rs2581787</text>
      <RotLabel cx={18} cy={222} size={9} k={1.75} angle={-90} color="#777"><LogLabel size={9} /></RotLabel>
      <RotLabel cx={688} cy={218} size={7.5} k={1.62} angle={90} color="#8EA0DA">Recombination rate (cM/Mb)</RotLabel>
      <LdLegend box={[567, 36, 618, 109]} rect={[570, 49, 586, 105]} labelX={597} r2={[589, 42]} font={8} />

      <text x={sx(105)} y={448} fontSize={24.5} fill="#1a1a1a">
        B.<tspan fontStyle="italic">RFT1</tspan> QTL
      </text>
      <text x={sx(356)} y={449} textAnchor="middle" fontSize={12} fill="#333">rs2581787</text>
      <RotLabel cx={25} cy={575} size={11} k={0.93} angle={-90} color="#777"><LogLabel size={11} /></RotLabel>
      <RotLabel cx={687} cy={573} size={10.5} k={0.93} angle={90} color="#8EA0DA">Recombination rate (cM/Mb)</RotLabel>
      <LdLegend box={[567, 417, 617, 483]} rect={[569, 429, 585, 479]} labelX={597} r2={[589, 423]} font={7.5} />

      <text x={sx(97)} y={781} fontSize={25} fill="#1a1a1a">C.cg22024966</text>
      <text x={sx(107)} y={807} fontSize={25} fill="#1a1a1a">QTL</text>
      <text x={sx(356)} y={793} textAnchor="middle" fontSize={8} fill="#333">rs2581787</text>
      <RotLabel cx={47} cy={913} size={6.7} k={1.4} angle={-90} color="#777"><LogLabel size={6.7} /></RotLabel>
      <RotLabel cx={667} cy={912} size={7.3} k={1.2} angle={90} color="#8EA0DA">Recombination rate (cM/Mb)</RotLabel>
      <LdLegend box={[577, 764, 622, 849]} rect={[583, 779, 594, 845]} labelX={602} r2={[599, 772]} font={7.5} />

      <line x1={sx(108)} x2={sx(605)} y1={1103} y2={1103} stroke="#999" strokeWidth={0.8} />
      <line x1={sx(100)} x2={sx(108)} y1={1099} y2={1103} stroke="#999" strokeWidth={0.8} />
      <line x1={sx(598)} x2={sx(605)} y1={1100} y2={1103} stroke="#999" strokeWidth={0.8} />
      <text x={sx(98)} y={1095} textAnchor="middle" fontSize={10} fill="#555">5'</text>
      <text x={sx(98)} y={1109} textAnchor="middle" fontSize={10} fill="#555">3'</text>
      <text x={sx(610)} y={1095} textAnchor="middle" fontSize={10} fill="#555">3'</text>
      <text x={sx(610)} y={1109} textAnchor="middle" fontSize={10} fill="#555">5'</text>
      <rect x={sx(312)} y={1123} width={sx(396 - 312)} height={17} fill="none" stroke="#E0262B" strokeWidth={2} />
    </svg>
  );
}

export default function App() {
  return (
    <div style={{ position: 'absolute', left: 0, top: 0, width: 696, height: 1325, overflow: 'hidden', background: '#fff' }}>
      <div
        style={{
          position: 'relative',
          width: W,
          height: 1325,
          transform: `scaleX(${S})`,
          transformOrigin: '0 0',
          fontFamily: '"Liberation Sans", Arial, Helvetica, sans-serif',
        }}
      >
        <Panel cfg={PANEL_A} />
        <Panel cfg={PANEL_B} />
        <Panel cfg={PANEL_C} />
        <GeneTrack />
        <Overlay />
      </div>
    </div>
  );
}
